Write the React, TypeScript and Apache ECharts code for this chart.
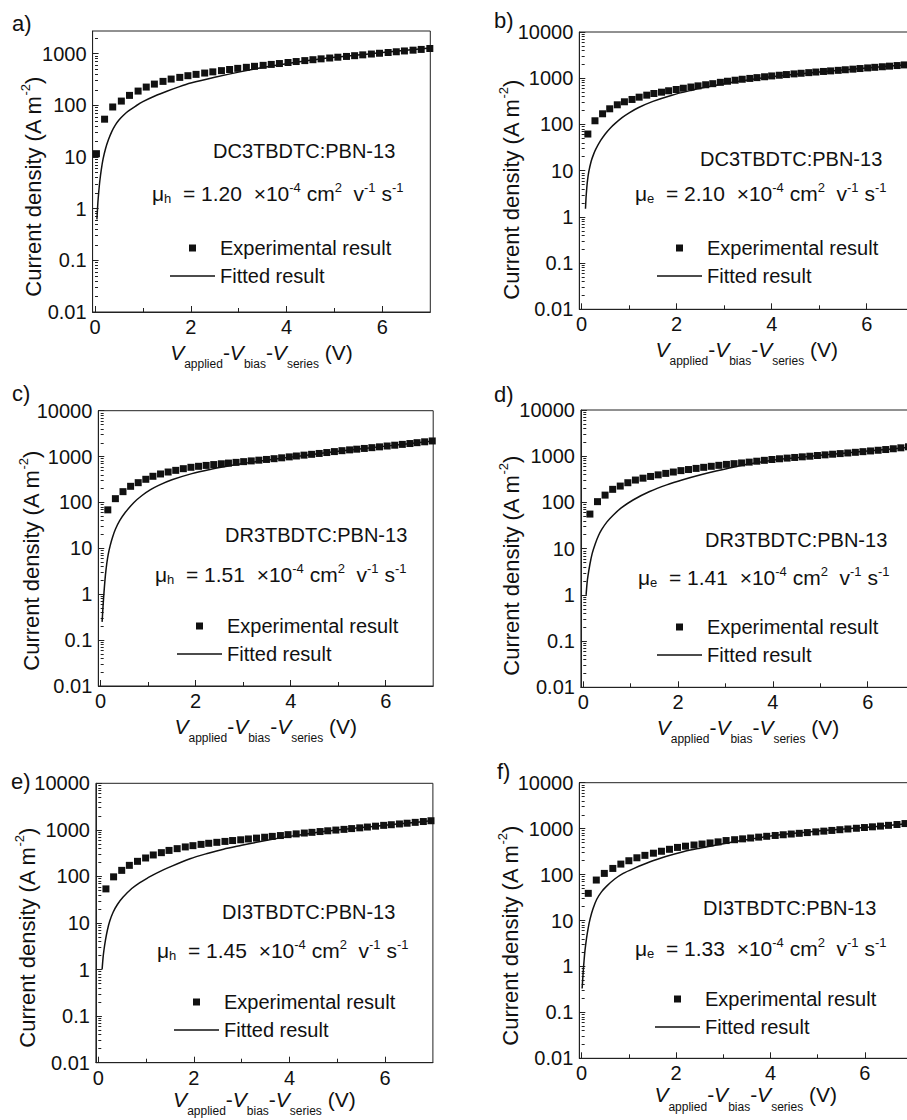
import React, { useEffect, useRef } from 'react';
import * as echarts from 'echarts';

// ---------------- data ----------------
const panelLetters = ['a)', 'b)', 'c)', 'd)', 'e)', 'f)'];
const blendNames = ['DC3TBDTC:PBN-13', 'DC3TBDTC:PBN-13', 'DR3TBDTC:PBN-13', 'DR3TBDTC:PBN-13', 'DI3TBDTC:PBN-13', 'DI3TBDTC:PBN-13'];
const carriers = ['h', 'e', 'h', 'e', 'h', 'e'];
const mobilities = ['1.20', '2.10', '1.51', '1.41', '1.45', '1.33'];
const yMaxValues = [2750, 10000, 10000, 10000, 10000, 10000];
const xTickValues = [0, 2, 4, 6];
const xMinorTickValues = [1, 3, 5];
const yTickValues = [0.01, 0.1, 1, 10, 100, 1000, 10000];

// panel a
const aExpV = [0.03, 0.20, 0.37, 0.55, 0.72, 0.90, 1.07, 1.24, 1.42, 1.59, 1.77, 1.94, 2.11, 2.29, 2.46, 2.64, 2.81, 2.98, 3.16, 3.33, 3.51, 3.68, 3.85, 4.03, 4.20, 4.38, 4.55, 4.72, 4.90, 5.07, 5.25, 5.42, 5.59, 5.77, 5.94, 6.12, 6.29, 6.46, 6.64, 6.81, 6.99];
const aExpJ = [11.6, 54, 93, 121, 156, 189, 226, 258, 291, 323, 348, 375, 398, 422, 445, 470, 495, 520, 545, 570, 595, 620, 645, 675, 705, 735, 765, 795, 825, 855, 885, 915, 950, 985, 1020, 1055, 1090, 1130, 1170, 1210, 1260];
const aFitV = [0.04, 0.06, 0.08, 0.10, 0.13, 0.17, 0.22, 0.28, 0.35, 0.42, 0.50, 0.60, 0.70, 0.85, 1.00, 1.25, 1.50, 1.75, 2.00, 2.50, 3.00, 3.50, 4.00, 5.00, 6.00, 7.00];
const aFitJ = [0.62, 1.3, 2.2, 3.4, 5.6, 9.3, 14.5, 21.5, 31, 41, 52, 65, 78, 97, 118, 152, 188, 228, 270, 350, 440, 540, 640, 850, 1050, 1290];

// panel b
const bExpV = [0.13, 0.28, 0.44, 0.59, 0.75, 0.90, 1.06, 1.21, 1.37, 1.52, 1.68, 1.83, 1.99, 2.14, 2.30, 2.45, 2.61, 2.76, 2.92, 3.07, 3.23, 3.38, 3.54, 3.69, 3.85, 4.00, 4.16, 4.31, 4.47, 4.62, 4.78, 4.93, 5.09, 5.24, 5.40, 5.55, 5.71, 5.86, 6.02, 6.17, 6.33, 6.48, 6.64, 6.79, 6.95];
const bExpJ = [62, 120, 170, 218, 266, 309, 347, 389, 430, 467, 499, 535, 570, 607, 645, 683, 722, 762, 815, 860, 905, 950, 990, 1030, 1075, 1120, 1160, 1200, 1240, 1280, 1320, 1360, 1400, 1440, 1480, 1525, 1570, 1620, 1670, 1720, 1770, 1825, 1880, 1940, 2000];
const bFitV = [0.08, 0.09, 0.10, 0.12, 0.15, 0.20, 0.25, 0.30, 0.40, 0.50, 0.60, 0.70, 0.85, 1.00, 1.20, 1.50, 1.90, 2.30, 2.60, 3.00, 3.50, 4.00, 4.50, 5.00, 5.50, 6.00, 6.50, 7.00];
const bFitJ = [1.5, 2.4, 3.4, 5.8, 9.5, 16, 22.5, 29.5, 45, 63, 83, 104, 140, 178, 232, 315, 430, 545, 635, 760, 915, 1070, 1215, 1360, 1505, 1660, 1830, 2020];

// panel c
const cExpV = [0.15, 0.31, 0.47, 0.63, 0.79, 0.95, 1.10, 1.26, 1.42, 1.58, 1.74, 1.90, 2.06, 2.22, 2.38, 2.54, 2.69, 2.85, 3.01, 3.17, 3.33, 3.49, 3.65, 3.81, 3.97, 4.12, 4.28, 4.44, 4.60, 4.76, 4.92, 5.08, 5.24, 5.39, 5.55, 5.71, 5.87, 6.03, 6.19, 6.35, 6.51, 6.66, 6.82, 6.98];
const cExpJ = [69, 121, 172, 225, 270, 320, 372, 418, 461, 501, 545, 584, 614, 642, 670, 697, 722, 748, 776, 805, 835, 866, 900, 940, 985, 1030, 1075, 1120, 1170, 1225, 1285, 1345, 1400, 1450, 1505, 1565, 1630, 1700, 1770, 1845, 1925, 2010, 2100, 2190];
const cFitV = [0.03, 0.05, 0.07, 0.10, 0.13, 0.16, 0.20, 0.25, 0.31, 0.40, 0.52, 0.70, 0.87, 1.05, 1.22, 1.50, 1.92, 2.30, 2.63, 3.00, 3.33, 3.80, 4.30, 5.00, 6.00, 7.00];
const cFitJ = [0.25, 0.55, 1.1, 2.6, 4.8, 7.5, 11.5, 17.5, 26, 40, 61, 100, 142, 190, 236, 312, 425, 525, 610, 705, 790, 915, 1060, 1300, 1690, 2190];

// panel d
const dExpV = [0.14, 0.30, 0.46, 0.62, 0.78, 0.94, 1.10, 1.26, 1.42, 1.58, 1.74, 1.90, 2.06, 2.22, 2.38, 2.54, 2.70, 2.86, 3.02, 3.18, 3.34, 3.50, 3.66, 3.82, 3.98, 4.14, 4.30, 4.46, 4.62, 4.78, 4.94, 5.10, 5.26, 5.42, 5.58, 5.74, 5.90, 6.06, 6.22, 6.38, 6.54, 6.70, 6.86];
const dExpJ = [56, 104, 144, 192, 226, 267, 305, 335, 365, 395, 425, 455, 488, 515, 545, 575, 605, 635, 665, 690, 715, 745, 780, 815, 850, 880, 910, 940, 970, 1000, 1035, 1070, 1105, 1140, 1175, 1215, 1255, 1300, 1345, 1395, 1450, 1520, 1600];
const dFitV = [0.06, 0.08, 0.10, 0.14, 0.19, 0.25, 0.32, 0.39, 0.50, 0.63, 0.80, 1.05, 1.40, 1.76, 2.10, 2.46, 2.80, 3.16, 3.50, 4.00, 4.50, 5.00, 5.50, 6.00, 6.50, 7.00];
const dFitJ = [1.0, 1.8, 2.6, 4.6, 8, 12.5, 19, 26, 38, 53, 76, 113, 172, 240, 310, 392, 478, 580, 680, 820, 930, 1045, 1165, 1295, 1440, 1610];

// panel e
const eExpV = [0.16, 0.32, 0.49, 0.65, 0.82, 0.99, 1.15, 1.32, 1.48, 1.65, 1.82, 1.98, 2.15, 2.31, 2.48, 2.65, 2.81, 2.98, 3.14, 3.31, 3.48, 3.64, 3.81, 3.97, 4.14, 4.31, 4.47, 4.64, 4.80, 4.97, 5.14, 5.30, 5.47, 5.63, 5.80, 5.97, 6.13, 6.30, 6.46, 6.63, 6.80, 6.96];
const eExpJ = [54, 98, 135, 173, 211, 249, 289, 324, 362, 395, 430, 458, 488, 515, 540, 565, 590, 612, 638, 665, 695, 725, 755, 790, 820, 855, 885, 920, 955, 990, 1025, 1065, 1105, 1150, 1200, 1250, 1290, 1340, 1390, 1450, 1510, 1570];
const eFitV = [0.08, 0.10, 0.12, 0.15, 0.19, 0.24, 0.31, 0.40, 0.52, 0.70, 0.87, 1.05, 1.22, 1.50, 1.92, 2.30, 2.62, 3.00, 3.31, 3.64, 4.00, 4.50, 5.00, 5.50, 6.00, 6.50, 7.00];
const eFitJ = [1.0, 1.8, 2.7, 4.3, 7, 11, 17, 25, 36, 55, 74, 95, 118, 160, 240, 315, 385, 465, 540, 625, 725, 860, 990, 1120, 1255, 1410, 1580];

// panel f
const fExpV = [0.14, 0.31, 0.48, 0.66, 0.83, 1.00, 1.17, 1.34, 1.52, 1.69, 1.86, 2.03, 2.20, 2.38, 2.55, 2.72, 2.89, 3.06, 3.24, 3.41, 3.58, 3.75, 3.92, 4.10, 4.27, 4.44, 4.61, 4.78, 4.96, 5.13, 5.30, 5.47, 5.64, 5.82, 5.99, 6.16, 6.33, 6.50, 6.68, 6.85];
const fExpJ = [39, 76, 106, 136, 169, 200, 232, 262, 292, 322, 355, 390, 415, 440, 462, 488, 515, 550, 574, 599, 625, 653, 681, 710, 736, 763, 791, 820, 850, 882, 914, 948, 983, 1019, 1057, 1095, 1135, 1180, 1230, 1290];
const fFitV = [0.01, 0.03, 0.05, 0.07, 0.10, 0.14, 0.18, 0.24, 0.32, 0.42, 0.53, 0.70, 0.88, 1.10, 1.45, 1.80, 2.15, 2.50, 2.86, 3.20, 3.57, 4.00, 4.50, 5.00, 5.50, 6.00, 6.50, 7.00];
const fFitJ = [0.33, 0.7, 1.3, 2.2, 3.9, 7, 11, 18, 29, 42, 56, 80, 106, 135, 190, 250, 315, 375, 440, 510, 590, 690, 790, 885, 975, 1060, 1170, 1300];

const expV = [aExpV, bExpV, cExpV, dExpV, eExpV, fExpV];
const expJ = [aExpJ, bExpJ, cExpJ, dExpJ, eExpJ, fExpJ];
const fitV = [aFitV, bFitV, cFitV, dFitV, eFitV, fFitV];
const fitJ = [aFitJ, bFitJ, cFitJ, dFitJ, eFitJ, fFitJ];

// ---------------- layout ----------------
const FONT = '"Liberation Sans", Arial, Helvetica, sans-serif';
const INK = '#111';
const X_MIN = -0.05;
const X_MAX = 7;

const layouts = [
  { grid: { left: 92.6, top: 31, width: 337.7, height: 281 }, letter: [12, 23], yTitle: [33, 187], name: [213, 151], mu: [152, 193], legend: [170, 238], xGap: 22 },
  { grid: { left: 579.3, top: 32, width: 334.9, height: 277.3 }, letter: [494, 20], yTitle: [511, 190], name: [700, 159], mu: [635, 193], legend: [657, 238], xGap: 22 },
  { grid: { left: 98.3, top: 410.7, width: 334.9, height: 275.3 }, letter: [12, 393], yTitle: [31, 561], name: [225, 535], mu: [155, 574], legend: [177, 616], xGap: 22 },
  { grid: { left: 580.9, top: 410, width: 334.2, height: 277.3 }, letter: [494, 394], yTitle: [511, 566], name: [705, 540], mu: [638, 577], legend: [657, 617], xGap: 22 },
  { grid: { left: 95.9, top: 783.3, width: 337, height: 279.4 }, letter: [11, 781], yTitle: [27, 938], name: [222, 912], mu: [157, 950], legend: [174, 992], xGap: 17 },
  { grid: { left: 579.3, top: 782.7, width: 332.8, height: 275.6 }, letter: [497, 771], yTitle: [510, 936], name: [703, 908], mu: [635, 948], legend: [655, 989], xGap: 17 },
];

function minorLogTicks(maxVal: number): number[] {
  const out: number[] = [];
  for (let d = -2; d <= 3; d++) {
    for (let m = 2; m <= 9; m++) {
      const v = parseFloat((m * Math.pow(10, d)).toPrecision(3));
      if (v < maxVal) out.push(v);
    }
  }
  return out;
}

function buildOption() {
  const grid: any[] = [];
  const xAxis: any[] = [];
  const yAxis: any[] = [];
  const series: any[] = [];
  const legend: any[] = [];
  const graphic: any[] = [];

  const axisLineStyle = { color: '#222', width: 1 };

  layouts.forEach((L, i) => {
    grid.push({
      ...L.grid,
      show: true,
      borderColor: '#222',
      borderWidth: 1,
      backgroundColor: 'transparent',
      containLabel: false,
      outerBoundsMode: 'none',
    });

    xAxis.push({
      gridIndex: i,
      type: 'value',
      min: X_MIN,
      max: X_MAX,
      axisLine: { show: true, onZero: false, lineStyle: axisLineStyle },
      axisTick: { show: true, inside: true, length: 6, customValues: xTickValues, lineStyle: axisLineStyle },
      axisLabel: { customValues: xTickValues, margin: 5, fontSize: 20, color: INK, fontFamily: FONT },
      splitLine: { show: false },
      name: '{v|V}{s|applied}{n|-}{v|V}{s|bias}{n|-}{v|V}{s|series}{n| (V)}',
      nameLocation: 'middle',
      nameGap: L.xGap,
      nameTextStyle: {
        color: INK,
        fontFamily: FONT,
        rich: {
          v: { fontSize: 21, fontStyle: 'italic', lineHeight: 36, color: INK, fontFamily: FONT },
          n: { fontSize: 21, lineHeight: 36, color: INK, fontFamily: FONT },
          s: { fontSize: 12, lineHeight: 12, verticalAlign: 'bottom', color: INK, fontFamily: FONT },
        },
      },
    });
    xAxis.push({
      gridIndex: i,
      type: 'value',
      min: X_MIN,
      max: X_MAX,
      position: 'bottom',
      axisLine: { show: false },
      axisTick: { show: true, inside: true, length: 4, customValues: xMinorTickValues, lineStyle: axisLineStyle },
      axisLabel: { show: false },
      splitLine: { show: false },
    });

    const ymax = yMaxValues[i];
    yAxis.push({
      gridIndex: i,
      type: 'log',
      logBase: 10,
      min: 0.01,
      max: ymax,
      position: 'left',
      axisLine: { show: true, onZero: false, lineStyle: axisLineStyle },
      axisTick: { show: true, inside: true, length: 6, customValues: yTickValues, lineStyle: axisLineStyle },
      axisLabel: {
        customValues: yTickValues,
        margin: 6,
        fontSize: 20,
        color: INK,
        fontFamily: FONT,
        formatter: (v: number) => String(v),
      },
      splitLine: { show: false },
    });
    yAxis.push({
      gridIndex: i,
      type: 'log',
      logBase: 10,
      min: 0.01,
      max: ymax,
      position: 'left',
      axisLine: { show: false },
      axisTick: { show: true, inside: true, length: 3, customValues: minorLogTicks(ymax), lineStyle: axisLineStyle },
      axisLabel: { show: false },
      splitLine: { show: false },
    });

    series.push({
      name: 'Fitted result',
      type: 'line',
      xAxisIndex: 2 * i,
      yAxisIndex: 2 * i,
      data: fitV[i].map((v, k) => [v, fitJ[i][k]]),
      symbol: 'none',
      smooth: 0.3,
      lineStyle: { color: INK, width: 1.5 },
      itemStyle: { color: INK },
      z: 2,
    });
    series.push({
      name: 'Experimental result',
      type: 'scatter',
      xAxisIndex: 2 * i,
      yAxisIndex: 2 * i,
      data: expV[i].map((v, k) => [v, expJ[i][k]]),
      symbol: 'rect',
      symbolSize: 7,
      itemStyle: { color: INK, opacity: 1 },
      z: 3,
    });

    legend.push({
      orient: 'vertical',
      left: L.legend[0],
      top: L.legend[1],
      padding: 0,
      itemGap: 8,
      itemWidth: 45,
      itemHeight: 7,
      selectedMode: false,
      textStyle: { fontSize: 20, color: INK, fontFamily: FONT, lineHeight: 20 },
      data: [
        { name: 'Experimental result', icon: 'path://M0 0H10V10H0Z', itemStyle: { color: INK, opacity: 1 } },
        { name: 'Fitted result', icon: 'path://M0 0H60V2H0Z', itemStyle: { color: INK, opacity: 1 } },
      ],
    });

    graphic.push({
      type: 'text',
      x: L.letter[0],
      y: L.letter[1],
      style: { text: panelLetters[i], fontSize: 22, fontFamily: FONT, fill: INK, align: 'left', verticalAlign: 'middle' },
    });
    graphic.push({
      type: 'text',
      x: L.yTitle[0],
      y: L.yTitle[1],
      rotation: Math.PI / 2,
      style: {
        text: '{n|Current density (A m}{sup|-2}{n|)}',
        fill: INK,
        fontFamily: FONT,
        fontSize: 22,
        align: 'center',
        verticalAlign: 'middle',
        rich: {
          n: { fontSize: 22, lineHeight: 28, fill: INK, fontFamily: FONT },
          sup: { fontSize: 13, lineHeight: 13, verticalAlign: 'top', fill: INK, fontFamily: FONT },
        },
      },
    });
    graphic.push({
      type: 'text',
      x: L.name[0],
      y: L.name[1],
      style: { text: blendNames[i], fontSize: 20, fontFamily: FONT, fill: INK, align: 'left', verticalAlign: 'middle' },
    });
    graphic.push({
      type: 'text',
      x: L.mu[0],
      y: L.mu[1],
      style: {
        text: `{n|μ}{sub|${carriers[i]}}{n|  = ${mobilities[i]}  ×10}{sup|-4}{n| cm}{sup|2}{n|  v}{sup|-1}{n| s}{sup|-1}`,
        fill: INK,
        fontFamily: FONT,
        fontSize: 21,
        align: 'left',
        verticalAlign: 'middle',
        rich: {
          n: { fontSize: 21, lineHeight: 24, fill: INK, fontFamily: FONT },
          sub: { fontSize: 13, lineHeight: 13, verticalAlign: 'bottom', fill: INK, fontFamily: FONT },
          sup: { fontSize: 13, lineHeight: 13, verticalAlign: 'top', fill: INK, fontFamily: FONT },
        },
      },
    });
  });

  return {
    animation: false,
    backgroundColor: '#ffffff',
    grid,
    xAxis,
    yAxis,
    series,
    legend,
    graphic,
  };
}

export default function App() {
  const ref = useRef<HTMLDivElement>(null);
  useEffect(() => {
    if (!ref.current) return;
    const chart = echarts.init(ref.current, null, { renderer: 'svg' });
    chart.setOption(buildOption() as any);
    return () => chart.dispose();
  }, []);
  return (
    <div style={{ position: 'fixed', left: 0, top: 0, width: 907, height: 1120, overflow: 'hidden', background: '#fff' }}>
      <div ref={ref} style={{ width: 920, height: 1120 }} />
    </div>
  );
}
